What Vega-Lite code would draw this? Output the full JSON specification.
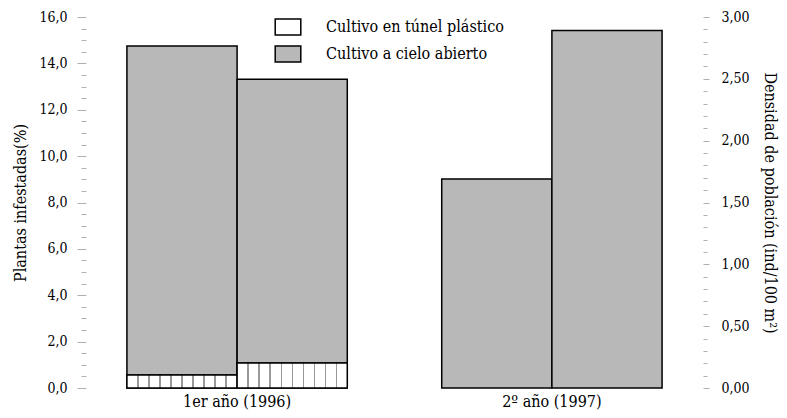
{
  "$schema": "https://vega.github.io/schema/vega-lite/v6.json",
  "width": 617,
  "height": 371,
  "autosize": {"type": "none"},
  "padding": {"left": 86, "top": 17, "right": 84, "bottom": 30},
  "config": {"view": {"stroke": null}, "font": "DejaVu Serif Condensed"},
  "data": {
    "values": [
      {"año": "1er año (1996)", "barra": "a", "tipo": "Cultivo en túnel plástico", "valor": 0.56, "eje": "pct"},
      {"año": "1er año (1996)", "barra": "a", "tipo": "Cultivo a cielo abierto", "valor": 14.19, "eje": "pct"},
      {"año": "1er año (1996)", "barra": "b", "tipo": "Cultivo en túnel plástico", "valor": 1.08, "eje": "pct"},
      {"año": "1er año (1996)", "barra": "b", "tipo": "Cultivo a cielo abierto", "valor": 12.24, "eje": "pct"},
      {"año": "2º año (1997)", "barra": "a", "tipo": "Cultivo a cielo abierto", "valor": 1.69, "eje": "dens"},
      {"año": "2º año (1997)", "barra": "b", "tipo": "Cultivo a cielo abierto", "valor": 2.89, "eje": "dens"}
    ]
  },
  "encoding": {
    "x": {
      "field": "año", "type": "nominal", "sort": null,
      "scale": {"paddingInner": 0.3, "paddingOuter": 0.13},
      "axis": {"title": null, "domain": false, "ticks": false, "labelAngle": 0, "labelFont": "DejaVu Serif Condensed", "labelFontSize": 16, "labelColor": "black", "labelPadding": 5}
    },
    "xOffset": {"field": "barra", "type": "nominal", "scale": {"paddingInner": 0, "paddingOuter": 0}}
  },
  "layer": [
    {
      "encoding": {
        "y": {
          "field": "valor", "type": "quantitative",
          "scale": {"domain": [0, 16], "nice": false},
          "axis": {
            "orient": "left",
            "title": "Plantas infestadas(%)",
            "titleFont": "DejaVu Serif Condensed", "titleFontSize": 16, "titleFontWeight": "normal", "titleColor": "black", "titlePadding": 10,
            "values": [0,0.5,1,1.5,2,2.5,3,3.5,4,4.5,5,5.5,6,6.5,7,7.5,8,8.5,9,9.5,10,10.5,11,11.5,12,12.5,13,13.5,14,14.5,15,15.5,16],
            "labelExpr": "datum.value % 2 === 0 ? replace(format(datum.value, '.1f'), '.', ',') : ''",
            "labelFont": "DejaVu Serif Condensed", "labelFontSize": 14, "labelColor": "black", "labelPadding": 10,
            "domain": false, "grid": false,
            "tickColor": "#b0b0b0",
            "tickSize": {"condition": {"test": "datum.value % 2 === 0", "value": 9}, "value": 5}
          }
        }
      },
      "layer": [
        {
          "transform": [{"filter": "datum.eje === 'pct'"}],
          "mark": {"type": "bar", "stroke": "black", "strokeWidth": 1.5},
          "encoding": {
            "color": {
              "field": "tipo", "type": "nominal",
              "scale": {"domain": ["Cultivo en túnel plástico", "Cultivo a cielo abierto"], "range": ["white", "#b8b8b8"]},
              "legend": {
                "title": null, "orient": "none", "legendX": 193, "legendY": 1, "padding": 0,
                "symbolType": "M-1.6,-1H1.6V1H-1.6Z", "symbolSize": 256,
                "symbolStrokeColor": "black", "symbolStrokeWidth": 1.5,
                "labelFont": "DejaVu Serif Condensed", "labelFontSize": 16, "labelColor": "black", "labelOffset": 29,
                "rowPadding": 5, "labelLimit": 400
              }
            },
            "order": {"field": "tipo", "type": "nominal", "sort": "descending"}
          }
        },
        {
          "transform": [{"filter": "datum.eje === 'pct' && datum.tipo === 'Cultivo en túnel plástico'"}],
          "mark": {
            "type": "bar", "stroke": "black", "strokeWidth": 1.5,
            "fill": {
              "gradient": "linear", "x1": 0, "x2": 1, "y1": 0, "y2": 0,
              "stops": [
                {"offset": 0, "color": "white"},
                {"offset": 0.094, "color": "white"}, {"offset": 0.094, "color": "#999999"}, {"offset": 0.106, "color": "#999999"}, {"offset": 0.106, "color": "white"},
                {"offset": 0.194, "color": "white"}, {"offset": 0.194, "color": "#999999"}, {"offset": 0.206, "color": "#999999"}, {"offset": 0.206, "color": "white"},
                {"offset": 0.294, "color": "white"}, {"offset": 0.294, "color": "#999999"}, {"offset": 0.306, "color": "#999999"}, {"offset": 0.306, "color": "white"},
                {"offset": 0.394, "color": "white"}, {"offset": 0.394, "color": "#999999"}, {"offset": 0.406, "color": "#999999"}, {"offset": 0.406, "color": "white"},
                {"offset": 0.494, "color": "white"}, {"offset": 0.494, "color": "#999999"}, {"offset": 0.506, "color": "#999999"}, {"offset": 0.506, "color": "white"},
                {"offset": 0.594, "color": "white"}, {"offset": 0.594, "color": "#999999"}, {"offset": 0.606, "color": "#999999"}, {"offset": 0.606, "color": "white"},
                {"offset": 0.694, "color": "white"}, {"offset": 0.694, "color": "#999999"}, {"offset": 0.706, "color": "#999999"}, {"offset": 0.706, "color": "white"},
                {"offset": 0.794, "color": "white"}, {"offset": 0.794, "color": "#999999"}, {"offset": 0.806, "color": "#999999"}, {"offset": 0.806, "color": "white"},
                {"offset": 0.894, "color": "white"}, {"offset": 0.894, "color": "#999999"}, {"offset": 0.906, "color": "#999999"}, {"offset": 0.906, "color": "white"},
                {"offset": 1, "color": "white"}
              ]
            }
          }
        }
      ]
    },
    {
      "transform": [{"filter": "datum.eje === 'dens'"}],
      "mark": {"type": "bar", "stroke": "black", "strokeWidth": 1.5},
      "encoding": {
        "y": {
          "field": "valor", "type": "quantitative",
          "scale": {"domain": [0, 3], "nice": false},
          "axis": {
            "orient": "right",
            "title": "Densidad de población (ind/100 m²)",
            "titleFont": "DejaVu Serif Condensed", "titleFontSize": 16, "titleFontWeight": "normal", "titleColor": "black", "titlePadding": 12, "titleAngle": 90,
            "values": [0,0.1,0.2,0.3,0.4,0.5,0.6,0.7,0.8,0.9,1,1.1,1.2,1.3,1.4,1.5,1.6,1.7,1.8,1.9,2,2.1,2.2,2.3,2.4,2.5,2.6,2.7,2.8,2.9,3],
            "labelExpr": "round(datum.value * 10) % 5 === 0 ? replace(format(datum.value, '.2f'), '.', ',') : ''",
            "labelFont": "DejaVu Serif Condensed", "labelFontSize": 14, "labelColor": "black", "labelPadding": 12,
            "domain": false, "grid": false,
            "tickColor": "#b0b0b0",
            "tickSize": {"condition": {"test": "round(datum.value * 10) % 5 === 0", "value": 6}, "value": 4}
          }
        },
        "color": {"field": "tipo", "type": "nominal"}
      }
    }
  ],
  "resolve": {"scale": {"y": "independent"}}
}
